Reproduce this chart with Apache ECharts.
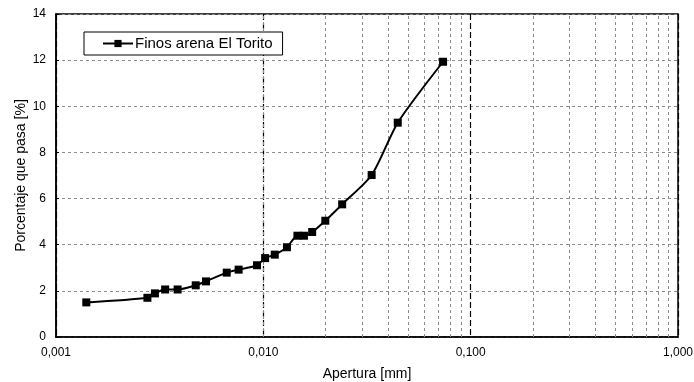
<!DOCTYPE html>
<html>
<head>
<meta charset="utf-8">
<script src="https://cdn.jsdelivr.net/npm/echarts@6/dist/echarts.min.js"></script>
<style>
  html, body { margin: 0; padding: 0; background: #fff; }
  #chart { width: 694px; height: 382px; }
</style>
</head>
<body>
<div id="chart"></div>
<script>
// Curva granulométrica de los finos (sedimentación)
const seriesName = 'Finos arena El Torito';
const apertura = [0.0014, 0.00276, 0.0030, 0.00336, 0.00386, 0.00472, 0.00529, 0.00666, 0.0076, 0.00932,
                  0.0102, 0.01135, 0.0130, 0.0146, 0.0157, 0.0172, 0.0199, 0.0240, 0.0333, 0.0445, 0.0736];
const pasa = [1.50, 1.70, 1.89, 2.06, 2.06, 2.24, 2.41, 2.79, 2.92, 3.11,
              3.42, 3.57, 3.89, 4.39, 4.39, 4.55, 5.04, 5.75, 7.02, 9.29, 11.93];
const xMin = 0.001, xMax = 1;
const yMin = 0, yMax = 14, yStep = 2;

// Líneas secundarias de la cuadrícula logarítmica (2..9 de cada década)
const minorLines = [];
for (let d = xMin; d < xMax; d *= 10) {
  for (let k = 2; k <= 9; k++) minorLines.push({ xAxis: +(d * k).toPrecision(3) });
}

const FONT = 'Liberation Sans, Arial, sans-serif';
const chart = echarts.init(document.getElementById('chart'), null, { renderer: 'canvas' });
chart.setOption({
  animation: false,
  backgroundColor: '#fff',
  grid: {
    left: 56, right: 16, top: 14, bottom: 45,
    outerBoundsMode: 'none',
    show: true, borderColor: '#000', borderWidth: 1.5, backgroundColor: 'transparent'
  },
  legend: {
    left: 84, top: 32,
    data: [seriesName],
    backgroundColor: '#fff',
    borderColor: '#000', borderWidth: 1,
    padding: [4, 10, 4, 18],
    itemWidth: 30, itemHeight: 9, itemGap: 0,
    textStyle: { fontFamily: FONT, fontSize: 15, color: '#000', padding: [0, 0, 0, -3] }
  },
  xAxis: {
    type: 'log', logBase: 10, min: xMin, max: xMax,
    name: 'Apertura [mm]', nameLocation: 'middle', nameGap: 30, nameMoveOverlap: false,
    nameTextStyle: { fontFamily: FONT, fontSize: 14, color: '#000' },
    axisLine: { show: true, lineStyle: { color: '#000', width: 1.5 } },
    axisTick: { show: false },
    axisLabel: {
      fontFamily: FONT, fontSize: 12, color: '#000', margin: 10,
      formatter: v => v.toFixed(3).replace('.', ',')
    },
    splitLine: { show: true, lineStyle: { color: '#000', width: 1.2, type: [6, 3] } },
    minorTick: { show: false }, minorSplitLine: { show: false }
  },
  yAxis: {
    type: 'value', min: yMin, max: yMax, interval: yStep,
    name: 'Porcentaje que pasa [%]', nameLocation: 'middle', nameGap: 28, nameMoveOverlap: false,
    nameTextStyle: { fontFamily: FONT, fontSize: 14, color: '#000' },
    axisLine: { show: true, lineStyle: { color: '#000', width: 1.5 } },
    axisTick: { show: true, inside: true, length: 3, lineStyle: { color: '#000' } },
    axisLabel: { fontFamily: FONT, fontSize: 12, color: '#000', margin: 10 },
    splitLine: { show: true, lineStyle: { color: '#8c8c8c', width: 1, type: [3, 3] } }
  },
  series: [
    {
      name: seriesName,
      type: 'line',
      data: apertura.map((x, i) => [x, pasa[i]]),
      smooth: 0.25,
      symbol: 'rect', symbolSize: 8,
      lineStyle: { color: '#000', width: 2 },
      itemStyle: { color: '#000' },
      z: 5,
      markLine: {
        silent: true, symbol: 'none', animation: false,
        label: { show: false },
        lineStyle: { color: '#8c8c8c', width: 1, type: [3, 3] },
        data: minorLines,
        z: 1
      }
    }
  ]
});
</script>
</body>
</html>
